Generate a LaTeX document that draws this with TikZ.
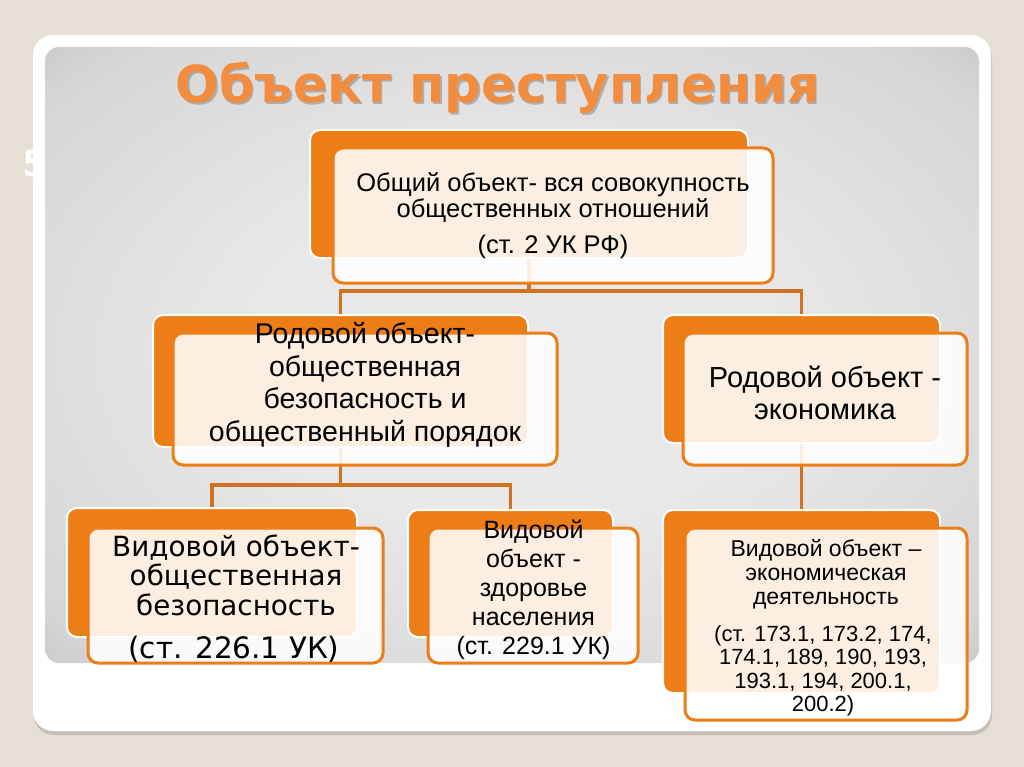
\documentclass[tikz,border=0pt]{standalone}
\usepackage{fontspec}
\setmainfont{Liberation Sans}
\newfontfamily\verdana{DejaVu Sans}
\usetikzlibrary{positioning}

\definecolor{pagebeige}{RGB}{229,223,213}
\definecolor{boxorange}{RGB}{237,125,22}
\definecolor{linkbrown}{RGB}{206,114,32}
\definecolor{titleorange}{RGB}{242,140,62}
\definecolor{panellight}{RGB}{232,232,232}
\definecolor{panelmid}{RGB}{214,214,214}
\definecolor{paneldark}{RGB}{163,163,163}

\pgfdeclareradialshading{panelshade}{\pgfpoint{0bp}{0bp}}{color(0bp)=(panellight); color(14bp)=(panellight); color(32bp)=(panelmid); color(50bp)=(paneldark); color(75bp)=(paneldark)}

\tikzset{
  backbox/.style={draw=white, line width=2pt, fill=boxorange, rounded corners=10pt, inner sep=0pt},
  frontbox/.style={draw=boxorange, line width=3pt, fill=white, fill opacity=.88, rounded corners=10pt, inner sep=0pt},
  link/.style={draw=linkbrown, line width=3.5pt},
  boxtext/.style={align=center, inner sep=0pt, text=black}
}

\begin{document}
\begin{tikzpicture}[x=1pt,y=-1pt]
  \useasboundingbox (0,0) rectangle (1024,767);
  \fill[pagebeige] (0,0) rectangle (1024,767);

  % frame and panel
  \fill[black, opacity=.14, rounded corners=20pt] (34,38) rectangle (992,735);
  \fill[white, rounded corners=20pt] (33,35) rectangle (991,731);
  \node[anchor=west, inner sep=0pt, text=white, font=\verdana\bfseries\fontsize{36}{36}\selectfont] (slidenum) at (22,164) {5};
  \shade[shading=panelshade, rounded corners=14pt] (45,47) rectangle (979,663);

  % title
  \node[anchor=base, inner sep=0pt, text=black, opacity=.22, font=\verdana\bfseries\fontsize{51}{51}\selectfont] (titleshadow) at (499.5,104.5) {Объект преступления};
  \node[anchor=base, inner sep=0pt, text=titleorange, font=\verdana\bfseries\fontsize{51}{51}\selectfont] (title) at (498,103) {Объект преступления};

  % orange back boxes
  \node[backbox, minimum width=438pt, minimum height=128pt] (genback) at (529,194) {};
  \node[backbox, minimum width=375pt, minimum height=132pt] (rodAback) at (340.5,381) {};
  \node[backbox, minimum width=277pt, minimum height=128pt] (rodBback) at (801.5,379) {};
  \node[backbox, minimum width=290pt, minimum height=129pt] (vidAback) at (212,572.5) {};
  \node[backbox, minimum width=205pt, minimum height=127pt] (vidBback) at (510.5,573.5) {};
  \node[backbox, minimum width=277pt, minimum height=183pt] (vidCback) at (801.5,601.5) {};

  % connectors
  \coordinate (forkA) at (529,291);
  \coordinate (forkB) at (340,485);
  \draw[link] (genback.south) -- (genback.south |- forkA) -| (rodAback.north);
  \draw[link] (genback.south |- forkA) -| (rodBback.north);
  \draw[link] (rodAback.south) -- (rodAback.south |- forkB) -| (vidAback.north);
  \draw[link] (rodAback.south |- forkB) -| (vidBback.north);
  \draw[link] (rodBback.south) -- (vidCback.north);

  % light front boxes
  \node[frontbox, minimum width=440pt, minimum height=135pt] (genfront) at (553,215.5) {};
  \node[frontbox, minimum width=384pt, minimum height=132pt] (rodAfront) at (365,399) {};
  \node[frontbox, minimum width=284pt, minimum height=132pt] (rodBfront) at (825,399) {};
  \node[frontbox, minimum width=295pt, minimum height=135pt] (vidAfront) at (235.5,595.5) {};
  \node[frontbox, minimum width=210pt, minimum height=135pt] (vidBfront) at (533,595.5) {};
  \node[frontbox, minimum width=282pt, minimum height=192pt] (vidCfront) at (826,624) {};

  % texts
  \node[boxtext, font=\fontsize{25.5}{26}\selectfont] (gentext) at (553,216)
    {Общий объект- вся совокупность\\общественных отношений\\[10pt](ст. 2 УК РФ)};
  \node[boxtext, font=\fontsize{28.5}{32.5}\selectfont] (rodAtext) at (365,385)
    {Родовой объект-\\общественная\\безопасность и\\общественный порядок};
  \node[boxtext, font=\fontsize{29}{32}\selectfont] (rodBtext) at (825,393)
    {Родовой объект -\\экономика};
  \node[boxtext, font=\verdana\fontsize{27.8}{29.5}\selectfont] (vidAtext) at (236,575)
    {Видовой объект-\\общественная\\безопасность};
  \node[boxtext, font=\verdana\fontsize{29.5}{30}\selectfont] (vidArefs) at (234,649)
    {(ст. 226.1 УК)};
  \node[boxtext, font=\fontsize{25}{29}\selectfont] (vidBtext) at (533.5,590)
    {Видовой\\объект -\\здоровье\\населения\\(ст. 229.1 УК)};
  \node[boxtext, font=\fontsize{23}{24}\selectfont] (vidCtext) at (826,574)
    {Видовой объект –\\экономическая\\деятельность};
  \node[boxtext, font=\fontsize{22}{23.5}\selectfont] (vidCrefs) at (823,671)
    {(ст. 173.1, 173.2, 174,\\174.1, 189, 190, 193,\\193.1, 194, 200.1,\\200.2)};
\end{tikzpicture}
\end{document}
